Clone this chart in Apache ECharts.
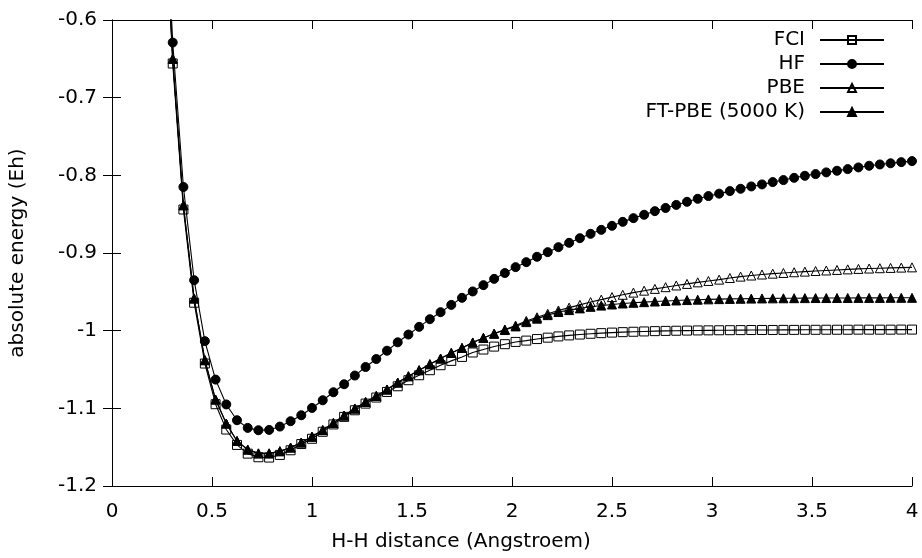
<!DOCTYPE html>
<html>
<head>
<meta charset="utf-8">
<script src="https://cdn.jsdelivr.net/npm/echarts@6/dist/echarts.min.js"></script>
<style>
html,body{margin:0;padding:0;background:#fff;}
#chart{width:922px;height:558px;}
</style>
</head>
<body>
<div id="chart"></div>
<script>
const xValues = [0.25,0.3036,0.3571,0.4107,0.4643,0.5179,0.5714,0.625,0.6786,0.7321,
0.7857,0.8393,0.8929,0.9464,1.0,1.0536,1.1071,1.1607,1.2143,1.2679,
1.3214,1.375,1.4286,1.4821,1.5357,1.5893,1.6429,1.6964,1.75,1.8036,
1.8571,1.9107,1.9643,2.0179,2.0714,2.125,2.1786,2.2321,2.2857,2.3393,
2.3929,2.4464,2.5,2.5536,2.6071,2.6607,2.7143,2.7679,2.8214,2.875,
2.9286,2.9821,3.0357,3.0893,3.1429,3.1964,3.25,3.3036,3.3571,3.4107,
3.4643,3.5179,3.5714,3.625,3.6786,3.7321,3.7857,3.8393,3.8929,3.9464,4.0];

const fciValues = [-0.37,-0.656,-0.844,-0.964,-1.0423,-1.0947,-1.1273,-1.1471,-1.1583,-1.163,
-1.1634,-1.160,-1.154,-1.146,-1.1392,-1.1302,-1.1207,-1.111,-1.1025,-1.0939,
-1.0861,-1.0789,-1.0716,-1.0638,-1.0574,-1.0509,-1.0445,-1.0389,-1.0338,-1.0281,
-1.0243,-1.0205,-1.0174,-1.0145,-1.0128,-1.0108,-1.009,-1.0074,-1.0061,-1.0050,
-1.0040,-1.0032,-1.0025,-1.0019,-1.0014,-1.0010,-1.0006,-1.0003,-1.0001,-0.9999,
-0.9997,-0.9996,-0.9995,-0.9994,-0.9993,-0.9992,-0.9991,-0.9991,-0.9990,-0.9990,
-0.9989,-0.9989,-0.9988,-0.9988,-0.9988,-0.9987,-0.9987,-0.9987,-0.9987,-0.9986,-0.9986];

const hfValues = [-0.35,-0.629,-0.815,-0.935,-1.0135,-1.063,-1.095,-1.1153,-1.1252,-1.1282,
-1.1278,-1.1235,-1.1166,-1.1089,-1.0995,-1.0896,-1.0793,-1.069,-1.0578,-1.0468,
-1.0365,-1.0258,-1.0150,-1.005,-0.9951,-0.9852,-0.9762,-0.9668,-0.9577,-0.9495,
-0.9414,-0.9333,-0.9258,-0.9182,-0.9118,-0.9049,-0.8989,-0.8925,-0.8869,-0.8809,
-0.8753,-0.8702,-0.865,-0.8599,-0.8551,-0.8508,-0.8461,-0.8420,-0.8381,-0.8341,
-0.8302,-0.8267,-0.8236,-0.8203,-0.8173,-0.8143,-0.8117,-0.8087,-0.8061,-0.8032,
-0.8006,-0.7984,-0.7962,-0.7941,-0.7920,-0.7898,-0.7877,-0.7860,-0.7845,-0.7830,-0.7817];

const pbeValues = [-0.37,-0.650,-0.8385,-0.9586,-1.038,-1.0887,-1.1196,-1.142,-1.1531,-1.158,
-1.158,-1.1552,-1.1505,-1.1440,-1.1365,-1.1280,-1.1188,-1.1093,-1.1003,-1.0917,
-1.0840,-1.0758,-1.0668,-1.0587,-1.0509,-1.0432,-1.0359,-1.0286,-1.0222,-1.0152,
-1.0093,-1.0037,-0.9985,-0.9935,-0.9875,-0.9828,-0.9783,-0.9740,-0.9703,-0.9668,
-0.9632,-0.9600,-0.9568,-0.9538,-0.9510,-0.9485,-0.9462,-0.9440,-0.9418,-0.9398,
-0.9378,-0.9360,-0.9343,-0.9322,-0.9304,-0.9290,-0.9277,-0.9266,-0.9257,-0.9248,
-0.9240,-0.9232,-0.9225,-0.9218,-0.9211,-0.9205,-0.9200,-0.9196,-0.9192,-0.9188,-0.9185];

const ftpbeValues = [-0.37,-0.650,-0.8385,-0.9586,-1.038,-1.0887,-1.1196,-1.142,-1.1531,-1.158,
-1.158,-1.1552,-1.1505,-1.1440,-1.1365,-1.1280,-1.1188,-1.1093,-1.1003,-1.0917,
-1.0840,-1.0758,-1.0668,-1.0587,-1.0509,-1.0432,-1.0359,-1.0286,-1.0222,-1.0152,
-1.0093,-1.0040,-0.9992,-0.9945,-0.9890,-0.9845,-0.9800,-0.9760,-0.9735,-0.9713,
-0.9693,-0.9677,-0.9663,-0.9650,-0.9641,-0.9633,-0.9625,-0.9618,-0.9611,-0.9606,
-0.9601,-0.9597,-0.9594,-0.9591,-0.9589,-0.9587,-0.9585,-0.9584,-0.9583,-0.9582,
-0.9581,-0.9580,-0.9580,-0.9579,-0.9579,-0.9578,-0.9578,-0.9578,-0.9577,-0.9577,-0.9577];

const seriesNames = ['FCI', 'HF', 'PBE', 'FT-PBE (5000 K)'];
const xTickLabels = ['0', '0.5', '1', '1.5', '2', '2.5', '3', '3.5', '4'];
const yTickLabels = ['-1.2', '-1.1', '-1', '-0.9', '-0.8', '-0.7', '-0.6'];
const xTitle = 'H-H distance (Angstroem)';
const yTitle = 'absolute energy (Eh)';

const FONT = 'DejaVu Sans';
function pairs(ys) { return xValues.map((x, i) => [x, ys[i]]); }
function xLabel(v) { const i = Math.round(v / 0.5); return xTickLabels[i] !== undefined ? xTickLabels[i] : ''; }
function yLabel(v) { const i = Math.round((v + 1.2) / 0.1); return yTickLabels[i] !== undefined ? yTickLabels[i] : ''; }

const axisLineStyle = { show: true, lineStyle: { color: '#000', width: 1 } };
const tickStyle = { show: true, inside: true, length: 9, lineStyle: { color: '#000', width: 1 } };
const labelStyle = { color: '#000', fontFamily: FONT, fontSize: 20 };

function mkSeries(name, ys, symbol, size, fill) {
  return {
    name: name, type: 'line', data: pairs(ys),
    symbol: symbol, symbolSize: size, showAllSymbol: true,
    clip: true,
    lineStyle: { color: '#000', width: 1.1 },
    itemStyle: { color: fill, borderColor: '#000', borderWidth: 1 },
    emphasis: { disabled: true },
    animation: false
  };
}

const chart = echarts.init(document.getElementById('chart'), null, { renderer: 'canvas' });
chart.setOption({
  animation: false,
  backgroundColor: '#fff',
  title: {
    text: xTitle, left: 'center', top: 532, padding: 0,
    textStyle: { color: '#000', fontFamily: FONT, fontSize: 20, fontWeight: 'normal' }
  },
  grid: { left: 112, right: 10, top: 20, bottom: 72, containLabel: false },
  legend: {
    orient: 'vertical', right: 37, top: 30, align: 'right', padding: 0,
    itemWidth: 64, itemHeight: 10, itemGap: 4,
    textStyle: { color: '#000', fontFamily: FONT, fontSize: 20, lineHeight: 20, padding: [0, 10, 0, 0] },
    data: seriesNames,
    selectedMode: false
  },
  xAxis: [{
    type: 'value', min: 0, max: 4, interval: 0.5, position: 'bottom',
    axisLine: axisLineStyle, axisTick: tickStyle, splitLine: { show: false },
    axisLabel: Object.assign({ margin: 16, formatter: xLabel }, labelStyle)
  }, {
    type: 'value', min: 0, max: 4, interval: 0.5, position: 'top',
    axisLine: axisLineStyle, axisTick: tickStyle, splitLine: { show: false },
    axisLabel: { show: false }
  }],
  yAxis: [{
    type: 'value', min: -1.2, max: -0.6, interval: 0.1, position: 'left',
    axisLine: axisLineStyle, axisTick: tickStyle, splitLine: { show: false },
    axisLabel: Object.assign({ margin: 15, formatter: yLabel }, labelStyle),
    name: yTitle, nameLocation: 'middle', nameGap: 84, nameRotate: 90,
    nameTextStyle: { color: '#000', fontFamily: FONT, fontSize: 20 }
  }, {
    type: 'value', min: -1.2, max: -0.6, interval: 0.1, position: 'right',
    axisLine: axisLineStyle, axisTick: tickStyle, splitLine: { show: false },
    axisLabel: { show: false }
  }],
  series: [
    mkSeries(seriesNames[0], fciValues, 'rect', 9, 'rgba(255,255,255,0)'),
    mkSeries(seriesNames[1], hfValues, 'circle', 9, '#000'),
    mkSeries(seriesNames[2], pbeValues, 'triangle', 9, 'rgba(255,255,255,0)'),
    mkSeries(seriesNames[3], ftpbeValues, 'triangle', 9, '#000')
  ]
});
</script>
</body>
</html>
